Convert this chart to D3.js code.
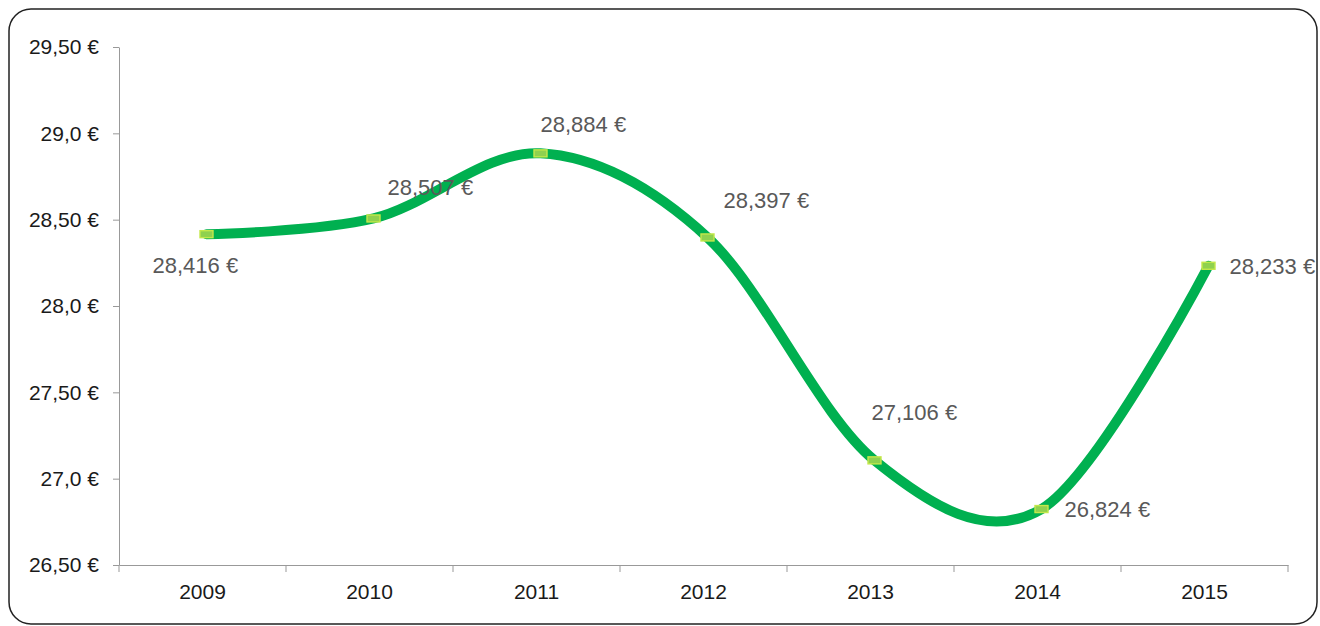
<!DOCTYPE html>
<html>
<head>
<meta charset="utf-8">
<script src="https://cdn.jsdelivr.net/npm/d3@7"></script>
<style>
  body { margin: 0; background: #fff; }
  svg { display: block; font-family: "Liberation Sans", Arial, sans-serif; }
</style>
</head>
<body>
<script>
// chart data
var years = ["2009", "2010", "2011", "2012", "2013", "2014", "2015"];
var prices = [28.416, 28.507, 28.884, 28.397, 27.106, 26.824, 28.233];
var yTicks = [26.5, 27.0, 27.5, 28.0, 28.5, 29.0, 29.5];
var yTickLabels = ["26,50 €", "27,0 €", "27,50 €", "28,0 €", "28,50 €", "29,0 €", "29,50 €"];
// where each data label sits relative to its point
var labelOffsets = [[-54, 31], [14, -31], [0, -29], [16, -37], [-3, -48], [23, 0], [21, 1]];

var width = 1320,
	height = 626;

var svg = d3.select("body").append("svg")
	.attr("width", width)
	.attr("height", height);

// frame
svg.append("rect")
	.attr("x", 9).attr("y", 9)
	.attr("width", 1308).attr("height", 615)
	.attr("rx", 22).attr("ry", 22)
	.attr("fill", "none")
	.attr("stroke", "#222")
	.attr("stroke-width", 1.5);

var x = d3.scaleBand().domain(years).range([119, 1288]);
var y = d3.scaleLinear().domain([26.5, 29.5]).range([565, 47]);

// y axis
var yAxis = svg.append("g")
	.attr("transform", "translate(119,0)")
	.call(d3.axisLeft(y).tickValues(yTicks)
		.tickFormat(function(d, i) { return yTickLabels[i]; })
		.tickSize(6).tickPadding(14).tickSizeOuter(0));
yAxis.select(".domain").attr("stroke", "#999");
yAxis.selectAll(".tick line").attr("stroke", "#999");
yAxis.selectAll("text").attr("font-size", 21).attr("fill", "#1a1a1a")
	.attr("font-family", "Liberation Sans, Arial, sans-serif");

// x axis, ticks at category boundaries
var xAxis = svg.append("g")
	.attr("transform", "translate(0,565)")
	.call(d3.axisBottom(x).tickSize(0).tickPadding(19));
xAxis.select(".domain").attr("stroke", "#999");
xAxis.selectAll("text").attr("font-size", 21).attr("fill", "#1a1a1a")
	.attr("font-family", "Liberation Sans, Arial, sans-serif");
xAxis.selectAll(".sep")
	.data(years.concat(["end"]))
	.enter().append("line")
	.attr("class", "sep")
	.attr("x1", function(d, i) { return 119 + i * x.bandwidth(); })
	.attr("x2", function(d, i) { return 119 + i * x.bandwidth(); })
	.attr("y1", 0).attr("y2", 7)
	.attr("stroke", "#999");

var px = function(d, i) { return x(years[i]) + x.bandwidth() / 2 + 4; };
var py = function(d) { return y(d); };

// smoothed line
var line = d3.line()
	.x(px).y(py)
	.curve(d3.curveCatmullRom.alpha(0));

svg.append("path")
	.datum(prices)
	.attr("d", line)
	.attr("fill", "none")
	.attr("stroke", "#00b050")
	.attr("stroke-width", 10)
	.attr("stroke-linecap", "round")
	.attr("stroke-linejoin", "round");

// markers
svg.selectAll(".mk")
	.data(prices)
	.enter().append("rect")
	.attr("class", "mk")
	.attr("x", function(d, i) { return px(d, i) - 6.5; })
	.attr("y", function(d) { return py(d) - 3.5; })
	.attr("width", 13).attr("height", 7)
	.attr("fill", "#8fd14f")
	.attr("stroke", "#c4e84a")
	.attr("stroke-width", 1.4);

// data labels
svg.selectAll(".lbl")
	.data(prices)
	.enter().append("text")
	.attr("class", "lbl")
	.attr("x", function(d, i) { return px(d, i) + labelOffsets[i][0]; })
	.attr("y", function(d, i) { return py(d) + labelOffsets[i][1]; })
	.attr("dy", "0.35em")
	.attr("font-size", 22)
	.attr("fill", "#595959")
	.text(function(d) { return d3.format(".3f")(d).replace(".", ",") + " €"; });
</script>
</body>
</html>
